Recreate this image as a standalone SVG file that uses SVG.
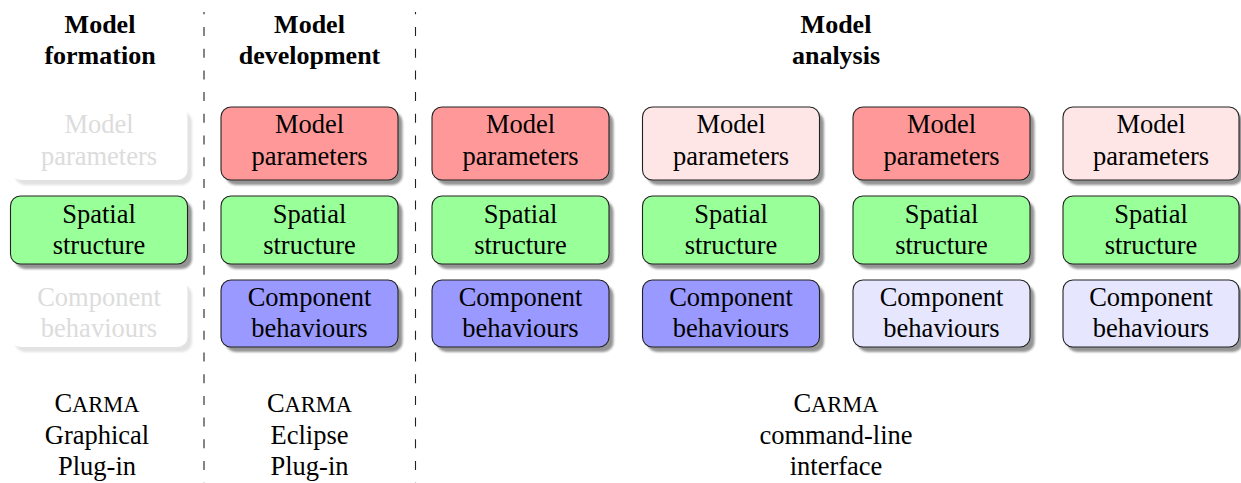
<svg xmlns="http://www.w3.org/2000/svg" width="1241" height="483" viewBox="0 0 1241 483" font-family="'Liberation Serif', 'DejaVu Serif', serif">
<style>
text{font-family:'Liberation Serif','DejaVu Serif',serif;font-size:26.5px;text-anchor:middle;fill:#000}
.h{font-weight:bold;font-size:26px}
.box{stroke:#222;stroke-width:1.1}
.sh{fill:#949494;filter:url(#blur)}
.shf{fill:#e2e2e2;filter:url(#blur)}
.faded{fill:#fff}
.ft{fill:#dcdcdc}
.red{fill:#ff9999}.pink{fill:#ffe6e6}.green{fill:#99ff99}.blue{fill:#9999ff}.lblue{fill:#e6e6ff}
.sep{stroke:#222;stroke-width:1.1;stroke-dasharray:9 12.7;stroke-dashoffset:6.7;fill:none}
.sc{font-size:22.5px}
</style>
<defs>
<filter id="blur" x="-10%" y="-10%" width="120%" height="120%"><feGaussianBlur stdDeviation="1"/></filter>
</defs>
<rect width="1241" height="483" fill="#fff"/>
<g id="separators">
<line class="sep" x1="204" y1="12" x2="204" y2="483"/>
<line class="sep" x1="415.5" y1="12" x2="415.5" y2="483"/>
</g>
<g id="headers">
<text class="h" x="100" y="33">Model</text><text class="h" x="100" y="64">formation</text>
<text class="h" x="309.5" y="33">Model</text><text class="h" x="309.5" y="64">development</text>
<text class="h" x="836" y="33">Model</text><text class="h" x="836" y="64">analysis</text>
</g>
<g id="col1">
<g id="c1-params"><rect class="shf" x="15" y="112" width="177" height="73" rx="10"/><rect class="faded" x="10.5" y="107" width="177" height="73" rx="10"/><text class="ft" x="99" y="133">Model</text><text class="ft" x="99" y="165">parameters</text></g>
<g id="c1-spatial"><rect class="sh" x="15" y="201" width="177" height="68" rx="10"/><rect class="box green" x="10.5" y="196" width="177" height="68" rx="10"/><text x="99" y="223">Spatial</text><text x="99" y="254">structure</text></g>
<g id="c1-comp"><rect class="shf" x="15" y="285" width="177" height="67" rx="10"/><rect class="faded" x="10.5" y="280" width="177" height="67" rx="10"/><text class="ft" x="99" y="306">Component</text><text class="ft" x="99" y="337">behaviours</text></g>
</g>
<g id="col2">
<g id="c2-params"><rect class="sh" x="225.5" y="112" width="177" height="73" rx="10"/><rect class="box red" x="221" y="107" width="177" height="73" rx="10"/><text x="309.5" y="133">Model</text><text x="309.5" y="165">parameters</text></g>
<g id="c2-spatial"><rect class="sh" x="225.5" y="201" width="177" height="68" rx="10"/><rect class="box green" x="221" y="196" width="177" height="68" rx="10"/><text x="309.5" y="223">Spatial</text><text x="309.5" y="254">structure</text></g>
<g id="c2-comp"><rect class="sh" x="225.5" y="285" width="177" height="67" rx="10"/><rect class="box blue" x="221" y="280" width="177" height="67" rx="10"/><text x="309.5" y="306">Component</text><text x="309.5" y="337">behaviours</text></g>
</g>
<g id="col3">
<g id="c3-params"><rect class="sh" x="436.5" y="112" width="177" height="73" rx="10"/><rect class="box red" x="432" y="107" width="177" height="73" rx="10"/><text x="520.5" y="133">Model</text><text x="520.5" y="165">parameters</text></g>
<g id="c3-spatial"><rect class="sh" x="436.5" y="201" width="177" height="68" rx="10"/><rect class="box green" x="432" y="196" width="177" height="68" rx="10"/><text x="520.5" y="223">Spatial</text><text x="520.5" y="254">structure</text></g>
<g id="c3-comp"><rect class="sh" x="436.5" y="285" width="177" height="67" rx="10"/><rect class="box blue" x="432" y="280" width="177" height="67" rx="10"/><text x="520.5" y="306">Component</text><text x="520.5" y="337">behaviours</text></g>
</g>
<g id="col4">
<g id="c4-params"><rect class="sh" x="647" y="112" width="177" height="73" rx="10"/><rect class="box pink" x="642.5" y="107" width="177" height="73" rx="10"/><text x="731" y="133">Model</text><text x="731" y="165">parameters</text></g>
<g id="c4-spatial"><rect class="sh" x="647" y="201" width="177" height="68" rx="10"/><rect class="box green" x="642.5" y="196" width="177" height="68" rx="10"/><text x="731" y="223">Spatial</text><text x="731" y="254">structure</text></g>
<g id="c4-comp"><rect class="sh" x="647" y="285" width="177" height="67" rx="10"/><rect class="box blue" x="642.5" y="280" width="177" height="67" rx="10"/><text x="731" y="306">Component</text><text x="731" y="337">behaviours</text></g>
</g>
<g id="col5">
<g id="c5-params"><rect class="sh" x="857.5" y="112" width="177" height="73" rx="10"/><rect class="box red" x="853" y="107" width="177" height="73" rx="10"/><text x="941.5" y="133">Model</text><text x="941.5" y="165">parameters</text></g>
<g id="c5-spatial"><rect class="sh" x="857.5" y="201" width="177" height="68" rx="10"/><rect class="box green" x="853" y="196" width="177" height="68" rx="10"/><text x="941.5" y="223">Spatial</text><text x="941.5" y="254">structure</text></g>
<g id="c5-comp"><rect class="sh" x="857.5" y="285" width="177" height="67" rx="10"/><rect class="box lblue" x="853" y="280" width="177" height="67" rx="10"/><text x="941.5" y="306">Component</text><text x="941.5" y="337">behaviours</text></g>
</g>
<g id="col6">
<g id="c6-params"><rect class="sh" x="1067" y="112" width="176" height="73" rx="10"/><rect class="box pink" x="1063" y="107" width="176" height="73" rx="10"/><text x="1151" y="133">Model</text><text x="1151" y="165">parameters</text></g>
<g id="c6-spatial"><rect class="sh" x="1067" y="201" width="176" height="68" rx="10"/><rect class="box green" x="1063" y="196" width="176" height="68" rx="10"/><text x="1151" y="223">Spatial</text><text x="1151" y="254">structure</text></g>
<g id="c6-comp"><rect class="sh" x="1067" y="285" width="176" height="67" rx="10"/><rect class="box lblue" x="1063" y="280" width="176" height="67" rx="10"/><text x="1151" y="306">Component</text><text x="1151" y="337">behaviours</text></g>
</g>
<g id="tools">
<text x="97" y="412">C<tspan class="sc">ARMA</tspan></text><text x="97" y="444">Graphical</text><text x="97" y="475">Plug-in</text>
<text x="309.5" y="412">C<tspan class="sc">ARMA</tspan></text><text x="309.5" y="444">Eclipse</text><text x="309.5" y="475">Plug-in</text>
<text x="836" y="412">C<tspan class="sc">ARMA</tspan></text><text x="836" y="444">command-line</text><text x="836" y="475">interface</text>
</g>
</svg>
